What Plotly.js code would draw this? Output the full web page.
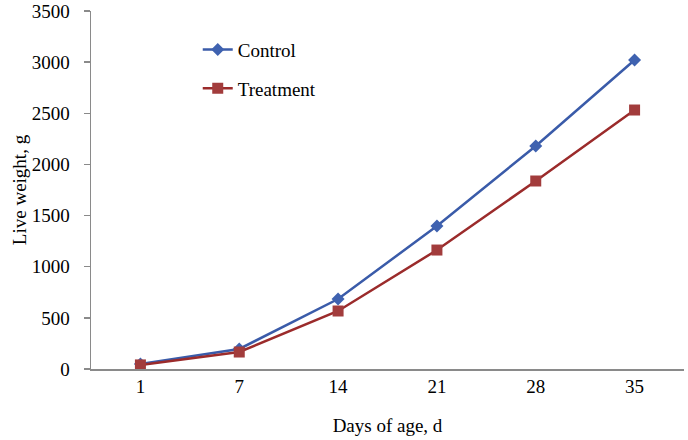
<!DOCTYPE html>
<html><head><meta charset="utf-8">
<script src="https://cdn.plot.ly/plotly-3.0.1.min.js"></script>
<style>body{margin:0;background:#fff}#c{width:688px;height:440px}</style>
</head><body><div id="c"></div>
<script>
const days = ["1","7","14","21","28","35"];
const control = [49, 196, 684, 1398, 2180, 3021];
const treatment = [40, 166, 567, 1163, 1838, 2532];
const yTicks = [0,500,1000,1500,2000,2500,3000,3500];

const font = {family: "Liberation Serif, Times New Roman, serif", color: "#000"};
const f = s => Object.assign({size: s}, font);
const traces = [
  {x: days, y: control, name: "Control", type: "scatter", mode: "lines+markers",
   legendgroup: "a",
   line: {color: "#3A5BA9", width: 2.5},
   marker: {symbol: "diamond", size: 10, color: "#3F62B0"}},
  {x: days, y: treatment, name: "Treatment", type: "scatter", mode: "lines+markers",
   legendgroup: "b",
   line: {color: "#9B2B2B", width: 2.5},
   marker: {symbol: "square", size: 11, color: "#A23C3C"}}
];
const layout = {
  width: 688, height: 440,
  margin: {l: 91, r: 4, t: 11, b: 71},
  paper_bgcolor: "#fff", plot_bgcolor: "#fff",
  font: f(19),
  showlegend: true,
  legend: {x: 0.18, y: 0.945, xanchor: "left", yanchor: "top",
           traceorder: "grouped", tracegroupgap: 11,
           font: f(19), bgcolor: "rgba(0,0,0,0)"},
  xaxis: {type: "category", range: [-0.5, 5.5], showgrid: false, zeroline: false,
          showline: true, linecolor: "#8a8a8a", linewidth: 1.5, ticks: "",
          tickfont: f(19), ticklen: 0, tickpad: 12,
          title: {text: "Days of age, d", font: f(19), standoff: 22}},
  yaxis: {range: [0, 3500], tickvals: yTicks, showgrid: false, zeroline: false,
          showline: true, linecolor: "#8a8a8a", linewidth: 1.5, ticks: "outside",
          ticklen: 6, tickcolor: "#8a8a8a", tickwidth: 1.5,
          ticklabelstandoff: 10,
          tickfont: f(19),
          title: {text: "Live weight, g", font: f(19), standoff: 0}}
};
Plotly.newPlot("c", traces, layout, {displayModeBar: false, staticPlot: true});
</script></body></html>
